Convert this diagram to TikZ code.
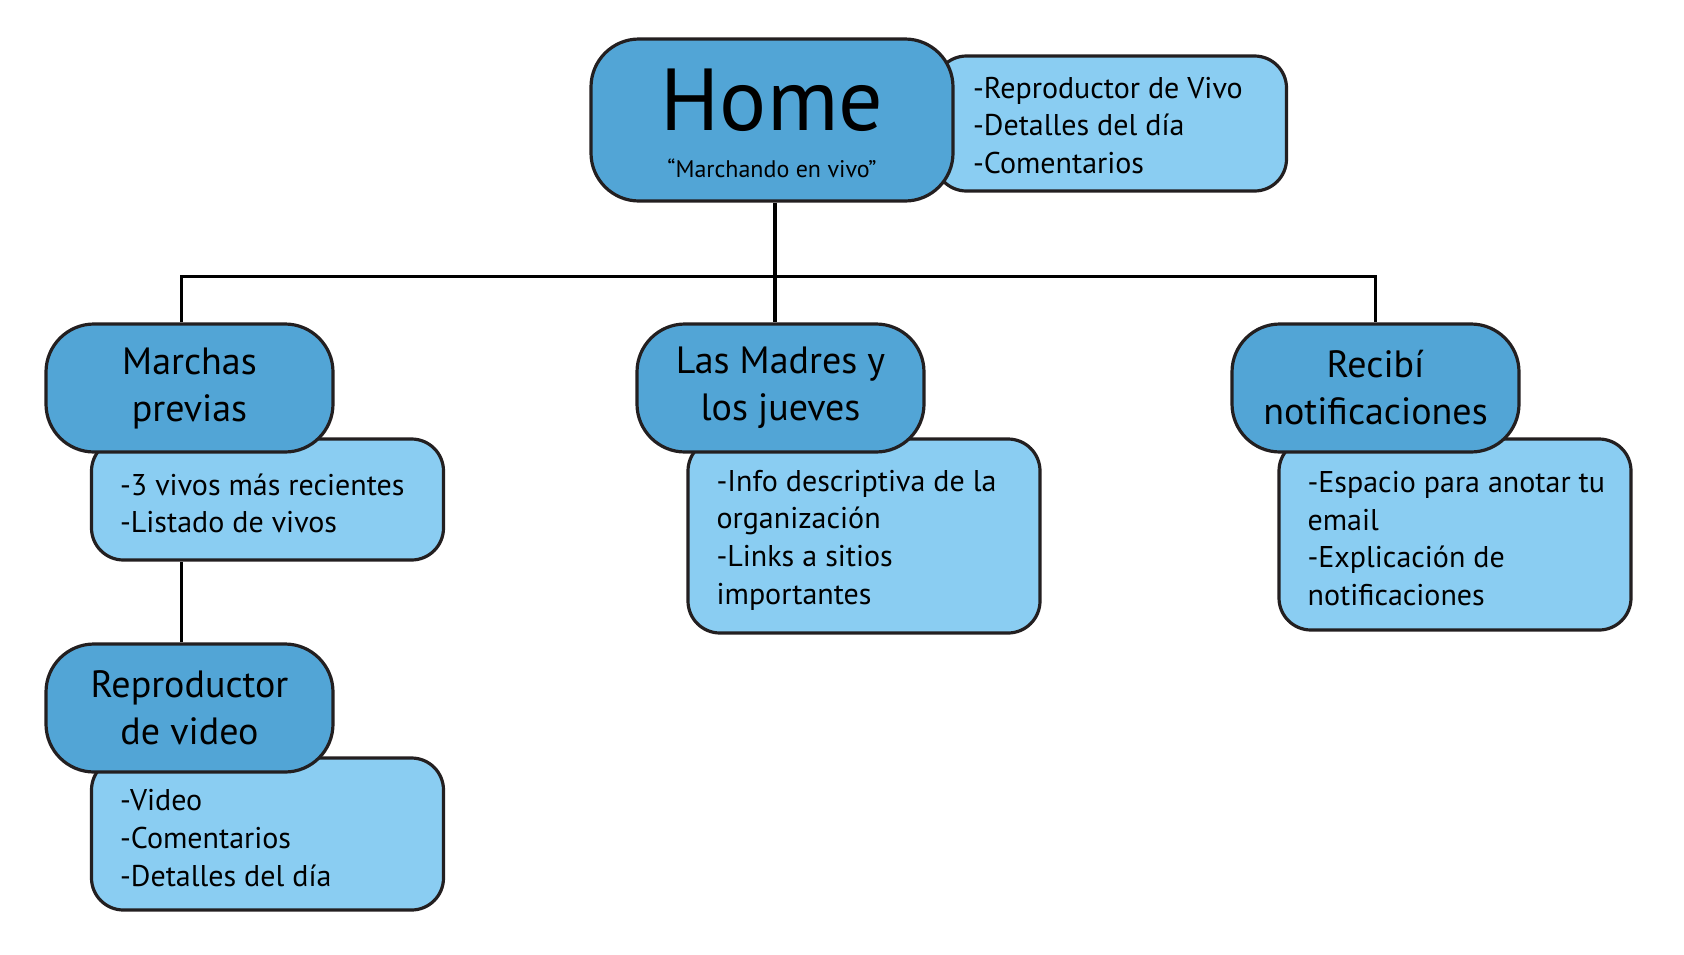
\documentclass[tikz,border=0pt]{standalone}
\usepackage{fontspec}
\setmainfont{PT Sans}
\usetikzlibrary{positioning, backgrounds}
\definecolor{boxblue}{HTML}{52A5D6}
\definecolor{infoblue}{HTML}{8ACDF2}
\definecolor{linegray}{HTML}{231F20}
\tikzset{
  titlebox/.style={draw=linegray, line width=3.2pt, fill=boxblue, rounded corners=48pt,
    align=center, inner sep=0pt, minimum width=287pt, minimum height=128pt,
    font=\fontsize{38}{47}\selectfont},
  infobox/.style={draw=linegray, line width=3.2pt, fill=infoblue, rounded corners=32pt,
    inner sep=0pt, minimum width=352pt},
  itemtext/.style={anchor=west, align=left, inner sep=0pt, yshift=-4pt,
    font=\fontsize{30}{37.6}\selectfont},
  link/.style={draw=black, line width=3.8pt}
}
\begin{document}
\begin{tikzpicture}[x=1pt, y=-1pt]
    \useasboundingbox (0,0) rectangle (1684,954);

    % top level
    \node[infobox, minimum height=135pt] (homeinfo) at (1110.5,123.5) {};
    \node[titlebox, minimum width=362pt, minimum height=162pt,
          font=\fontsize{24}{47}\selectfont] (home) at (772,120)
        {{\fontsize{88}{88}\selectfont\rule{0pt}{68pt}Home}\\“Marchando en vivo”};
    \node[itemtext, yshift=2pt] (homeitems) at ([xshift=40pt]homeinfo.west)
        {-Reproductor de Vivo\\-Detalles del día\\-Comentarios};

    % second level
    \node[infobox, minimum height=121pt] (marchasinfo) at (267.5,499.5) {};
    \node[titlebox] (marchas) at (189.5,388) {Marchas\\previas};
    \node[itemtext] (marchasitems) at ([xshift=30pt]marchasinfo.west)
        {-3 vivos más recientes\\-Listado de vivos};

    \node[infobox, minimum height=194pt] (madresinfo) at (864,536) {};
    \node[titlebox] (madres) at (780.5,388) {Las Madres y\\los jueves};
    \node[itemtext] (madresitems) at ([xshift=30pt]madresinfo.west)
        {-Info descriptiva de la\\organización\\-Links a sitios\\importantes};

    \node[infobox, minimum height=191pt] (recibiinfo) at (1455,534.5) {};
    \node[titlebox] (recibi) at (1375.5,388) {Recibí\\notificaciones};
    \node[itemtext] (recibiitems) at ([xshift=30pt]recibiinfo.west)
        {-Espacio para anotar tu\\email\\-Explicación de\\notificaciones};

    % third level
    \node[infobox, minimum height=152pt] (reproinfo) at (267.5,834) {};
    \node[titlebox] (repro) at (189.5,708) {Reproductor\\de video};
    \node[itemtext] (reproitems) at ([xshift=30pt]reproinfo.west)
        {-Video\\-Comentarios\\-Detalles del día};

    % connectors
    \begin{scope}[on background layer]
        \draw[link] ([xshift=-8pt]marchas.north) -- ++(0,-46) -| (recibi.north);
        \draw[link] ([xshift=3pt]home.south) -- ([xshift=3pt]home.south |- madres.north);
        \draw[link] ([xshift=-8pt]repro.north) -- ([xshift=-8pt]repro.north |- marchasinfo.south);
    \end{scope}
\end{tikzpicture}
\end{document}
